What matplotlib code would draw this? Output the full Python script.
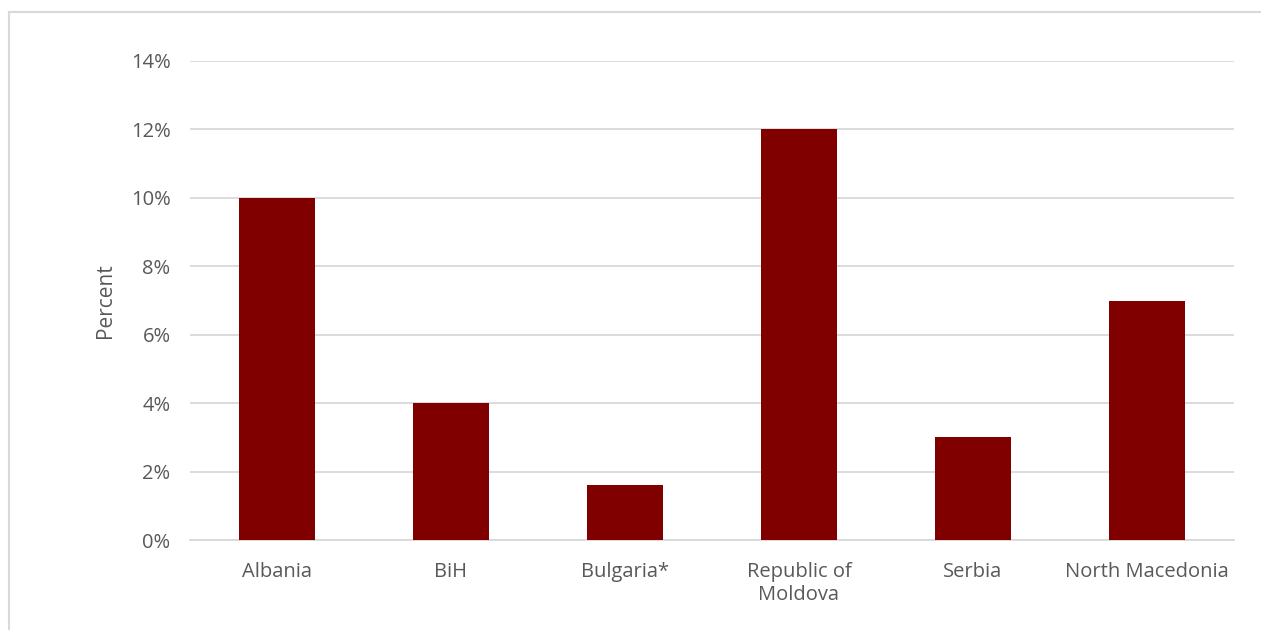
import matplotlib.pyplot as plt
from matplotlib.lines import Line2D
from matplotlib.ticker import FuncFormatter

countries = ['Albania', 'BiH', 'Bulgaria*', 'Republic of\nMoldova', 'Serbia', 'North Macedonia']
shares = [10, 4, 1.6, 12, 3, 7]
yticks = [0, 2, 4, 6, 8, 10, 12, 14]

bar_color = '#800000'
text_color = '#595959'
grid_color = '#d9d9d9'

plt.rcParams['font.family'] = ['Open Sans', 'DejaVu Sans']

fig = plt.figure(figsize=(12.61, 6.30), dpi=100)
ax = fig.add_axes([190 / 1261, 1 - 540 / 630, 1044 / 1261, 479 / 630])

# outer chart frame: only the top and left edges fall inside the image
frame_top = 1 - 12 / 630
frame_left = 8.5 / 1261
fig.lines.append(Line2D([frame_left, 1.0], [frame_top, frame_top], transform=fig.transFigure,
                        color=grid_color, linewidth=1.5))
fig.lines.append(Line2D([frame_left, frame_left], [0.0, frame_top], transform=fig.transFigure,
                        color=grid_color, linewidth=1.5))

x = range(len(countries))
ax.bar(x, shares, width=0.44, color=bar_color, zorder=3)

ax.set_xlim(-0.5, len(countries) - 0.5)
ax.set_ylim(0, 14)
ax.set_yticks(yticks)
ax.yaxis.set_major_formatter(FuncFormatter(lambda v, _: f'{v:.0f}%'))
ax.set_xticks(list(x))
ax.set_xticklabels(countries, linespacing=1.2)

ax.grid(axis='y', color=grid_color, linewidth=1.3, zorder=0)
for side in ['top', 'right', 'left']:
    ax.spines[side].set_visible(False)
ax.spines['bottom'].set_color(grid_color)
ax.spines['bottom'].set_linewidth(1.3)
ax.tick_params(axis='both', length=0, labelsize=14.5, colors=text_color)
ax.tick_params(axis='x', pad=16)
ax.tick_params(axis='y', pad=14)

ax.set_ylabel('Percent', fontsize=15, color=text_color, labelpad=11)

fig.savefig('out.png', dpi=100)
